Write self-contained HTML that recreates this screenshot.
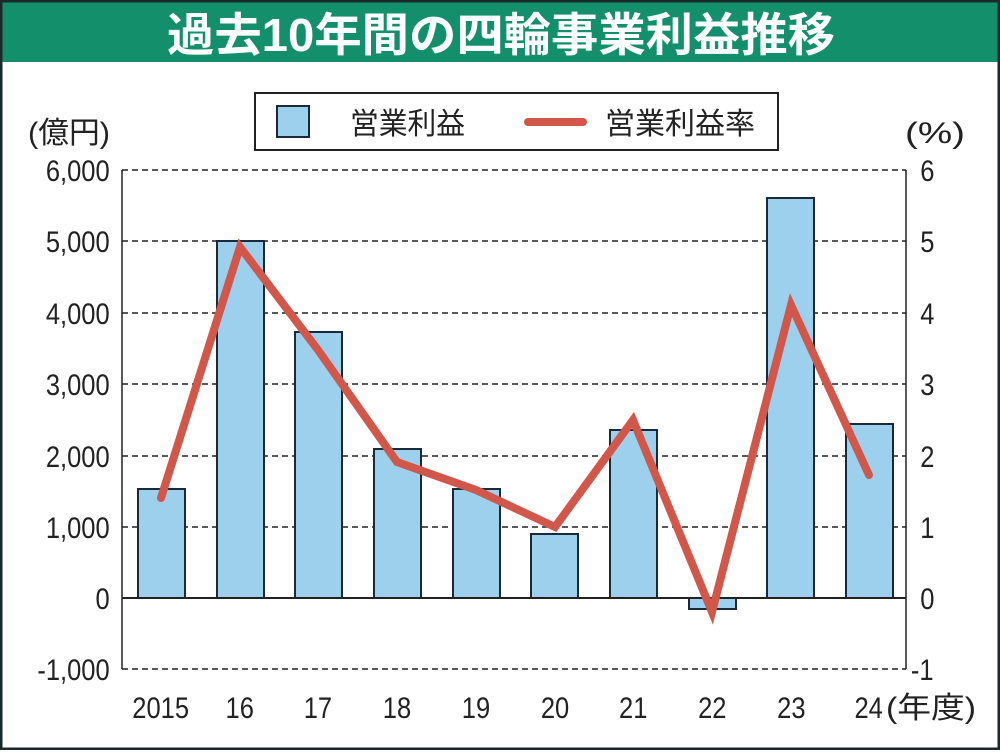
<!DOCTYPE html>
<html><head><meta charset="utf-8"><style>
html,body{margin:0;padding:0;background:#fff}
body{width:1000px;height:750px;overflow:hidden}
text{font-family:"Liberation Sans","Noto Sans CJK JP",sans-serif}
</style></head><body>
<svg width="1000" height="750" xmlns="http://www.w3.org/2000/svg">
<rect x="0" y="0" width="1000" height="750" fill="#fff"/>
<rect x="0" y="0" width="1000" height="62" fill="#13906b"/>
<rect x="1" y="1" width="998" height="748" fill="none" stroke="#1a2a2a" stroke-width="3"/>
<text x="167" y="51" font-size="46" font-weight="bold" fill="#fff" textLength="668" lengthAdjust="spacingAndGlyphs">過去10年間の四輪事業利益推移</text>
<!-- legend -->
<rect x="255" y="93" width="523" height="57" fill="#fff" stroke="#222" stroke-width="2"/>
<rect x="277" y="106" width="32" height="31" fill="#9dd0ec" stroke="#1a2a3a" stroke-width="2"/>
<text x="350" y="134" font-size="30" fill="#222" textLength="115" lengthAdjust="spacingAndGlyphs">営業利益</text>
<line x1="528" y1="122" x2="583" y2="122" stroke="#d0574a" stroke-width="8" stroke-linecap="round"/>
<text x="605" y="134" font-size="30" fill="#222" textLength="150" lengthAdjust="spacingAndGlyphs">営業利益率</text>
<text x="28" y="143" font-size="30" fill="#222" textLength="82" lengthAdjust="spacingAndGlyphs">(億円)</text>
<text x="905" y="143" font-size="30" fill="#222" textLength="60" lengthAdjust="spacingAndGlyphs">(%)</text>
<!-- grid -->
<g stroke="#222" stroke-width="1.5" stroke-dasharray="6,4">
<line x1="122" y1="170" x2="906" y2="170"/>
<line x1="122" y1="241" x2="906" y2="241"/>
<line x1="122" y1="313" x2="906" y2="313"/>
<line x1="122" y1="384" x2="906" y2="384"/>
<line x1="122" y1="456" x2="906" y2="456"/>
<line x1="122" y1="527" x2="906" y2="527"/>
<line x1="122" y1="669" x2="906" y2="669"/>
</g>
<line x1="122" y1="170" x2="122" y2="669" stroke="#222" stroke-width="1.5"/>
<line x1="906" y1="170" x2="906" y2="669" stroke="#222" stroke-width="1.5"/>
<!-- bars -->
<g fill="#9dd0ec" stroke="#1a2a3a" stroke-width="2">
<rect x="138" y="489" width="47" height="109"/>
<rect x="217" y="241" width="47" height="357"/>
<rect x="295" y="332" width="47" height="266"/>
<rect x="374" y="449" width="47" height="149"/>
<rect x="453" y="489" width="47" height="109"/>
<rect x="531" y="534" width="47" height="64"/>
<rect x="610" y="430" width="47" height="168"/>
<rect x="689" y="598" width="47" height="11"/>
<rect x="767" y="198" width="47" height="400"/>
<rect x="846" y="424" width="47" height="174"/>
</g>
<line x1="122" y1="598" x2="906" y2="598" stroke="#222" stroke-width="2"/>
<polyline points="161,498 240,247 318,350 397,462 476,490 555,527 633,420 712,612 791,305 869,475" fill="none" stroke="#d0574a" stroke-width="8" stroke-linejoin="miter" stroke-linecap="round"/>
<!-- left ticks -->
<g font-size="30" fill="#222" text-anchor="end" transform="scale(0.85,1)">
<text x="129" y="181">6,000</text>
<text x="129" y="252">5,000</text>
<text x="129" y="324">4,000</text>
<text x="129" y="395">3,000</text>
<text x="129" y="467">2,000</text>
<text x="129" y="538">1,000</text>
<text x="129" y="609">0</text>
<text x="129" y="680">-1,000</text>
</g>
<g font-size="30" fill="#222" text-anchor="middle" transform="scale(0.85,1)">
<text x="1091" y="181">6</text>
<text x="1091" y="252">5</text>
<text x="1091" y="324">4</text>
<text x="1091" y="395">3</text>
<text x="1091" y="467">2</text>
<text x="1091" y="538">1</text>
<text x="1091" y="609">0</text>
<text x="1085" y="680">-1</text>
</g>
<g font-size="30" fill="#222" text-anchor="middle" transform="scale(0.85,1)">
<text x="189" y="718">2015</text>
<text x="282" y="718">16</text>
<text x="374" y="718">17</text>
<text x="467" y="718">18</text>
<text x="560" y="718">19</text>
<text x="653" y="718">20</text>
<text x="745" y="718">21</text>
<text x="838" y="718">22</text>
<text x="931" y="718">23</text>
<text x="1022" y="718">24</text>
</g>
<text x="886" y="718" font-size="30" fill="#222" textLength="90" lengthAdjust="spacingAndGlyphs">(年度)</text>
</svg>
</body></html>
